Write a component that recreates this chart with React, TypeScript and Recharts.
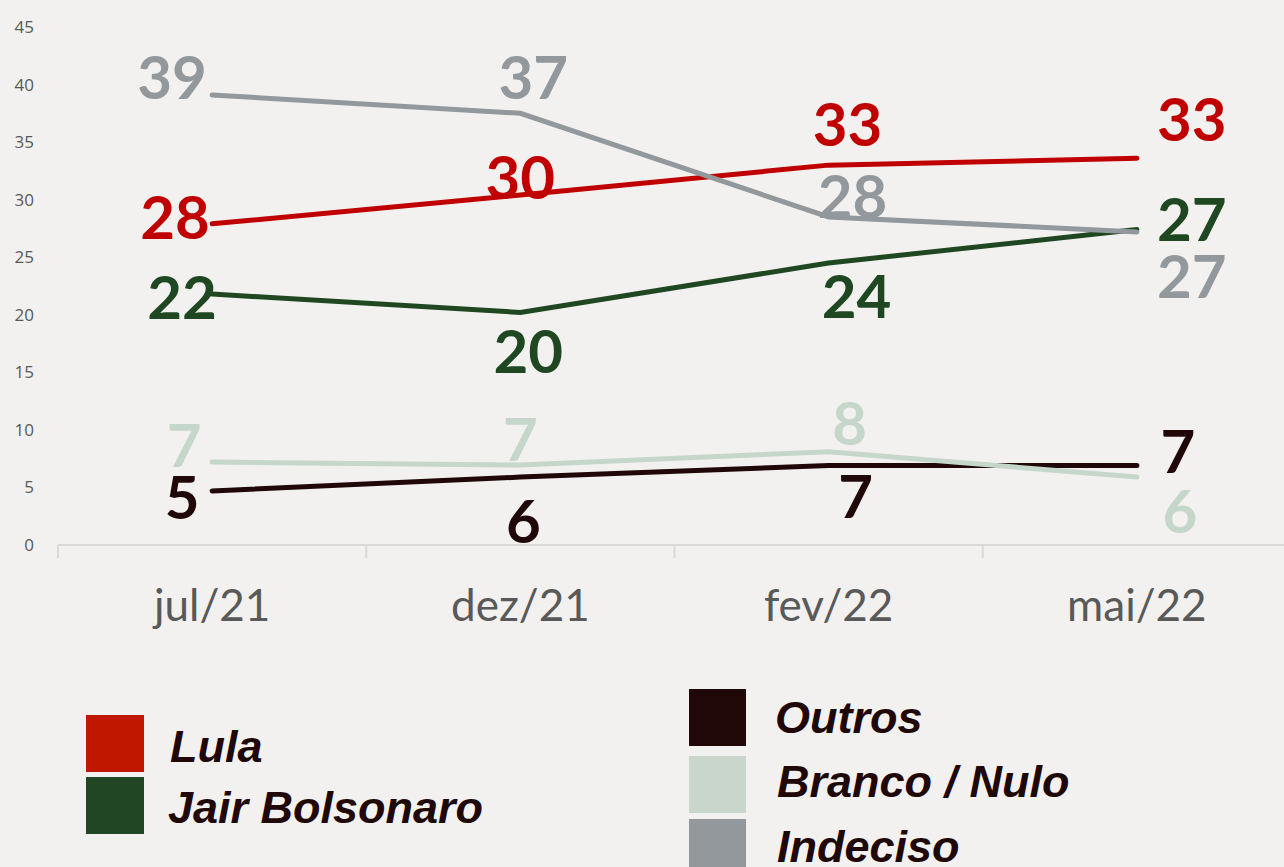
import React from "react";
import { LineChart, Line, XAxis, YAxis, LabelList } from "recharts";

const categories = ["jul/21", "dez/21", "fev/22", "mai/22"];
const lula = [27.9, 30.4, 33.0, 33.6];
const bolsonaro = [21.8, 20.2, 24.5, 27.4];
const indeciso = [39.1, 37.5, 28.5, 27.2];
const branco = [7.2, 6.95, 8.1, 5.9];
const outros = [4.7, 5.9, 6.9, 6.9];

const lulaLabels = ["28", "30", "33", "33"];
const bolsonaroLabels = ["22", "20", "24", "27"];
const indecisoLabels = ["39", "37", "28", "27"];
const brancoLabels = ["7", "7", "8", "6"];
const outrosLabels = ["5", "6", "7", "7"];

const yTicks = [0, 5, 10, 15, 20, 25, 30, 35, 40, 45];

const data = categories.map((c, i) => ({
  cat: c,
  lula: lula[i],
  bolsonaro: bolsonaro[i],
  indeciso: indeciso[i],
  branco: branco[i],
  outros: outros[i],
}));

// label placement (offset of label centre from point), not data
const placement: Record<string, [number, number][]> = {
  lula: [[-37, -6], [0, -17], [19, -40], [55, -38]],
  bolsonaro: [[-30, 4], [8, 40], [28, 34], [55, -10]],
  indeciso: [[-40, -17], [13, -35], [24, -20], [55, 45]],
  branco: [[-28, -16], [0, -25], [21, -28], [43, 35]],
  outros: [[-30, 7], [3, 45], [27, 31], [41, -14]],
};

const COLORS = {
  lula: "#c00000",
  bolsonaro: "#1f4722",
  indeciso: "#92989b",
  branco: "#c5d6cb",
  outros: "#200808",
};

const LEGEND_COLORS = {
  lula: "#c01800",
  bolsonaro: "#214624",
  outros: "#200808",
  branco: "#c8d6cc",
  indeciso: "#92989b",
};

const AXIS_Y = 545;
const BAND = 308.25;

const makeLabel = (key: string, texts: string[]) => (props: any) => {
  const { x, y, index } = props;
  const [dx, dy] = placement[key][index];
  return (
    <text
      x={x + dx}
      y={y + dy}
      dy={21}
      textAnchor="middle"
      fill={(COLORS as any)[key]}
      fontFamily="Lato, 'Open Sans', sans-serif"
      fontWeight={700}
      fontSize={60}
    >
      {texts[index]}
    </text>
  );
};

const XTick = (props: any) => {
  const { x, payload } = props;
  return (
    <g>
      <line x1={x - BAND / 2} x2={x - BAND / 2} y1={AXIS_Y} y2={AXIS_Y + 13} stroke="#d9d9d9" strokeWidth={2} />
      <text x={x} y={621} textAnchor="middle" fill="#595959" fontFamily="Lato, 'Open Sans', sans-serif" fontSize={44}>
        {payload.value}
      </text>
    </g>
  );
};

const YTick = (props: any) => {
  const { y, payload } = props;
  return (
    <text x={34} y={y} dy={6} textAnchor="end" fill="#595959" fontFamily="'Open Sans', sans-serif" fontSize={17}>
      {payload.value}
    </text>
  );
};

const legendFont = "'Liberation Sans', Arial, sans-serif";

export default function App() {
  return (
    <div
      style={{
        position: "absolute",
        left: 0,
        top: 0,
        width: 1284,
        height: 867,
        overflow: "hidden",
        background: "#f2f1ef",
      }}
    >
      <LineChart
        width={1300}
        height={867}
        data={data}
        margin={{ top: 27, right: 9, bottom: 222, left: 0 }}
      >
        <YAxis
          domain={[0, 45]}
          ticks={yTicks}
          width={58}
          axisLine={false}
          tickLine={false}
          tick={<YTick />}
          interval={0}
        />
        <XAxis
          dataKey="cat"
          height={100}
          padding={{ left: BAND / 2, right: BAND / 2 }}
          axisLine={{ stroke: "#d9d9d9", strokeWidth: 2 }}
          tickLine={false}
          tick={<XTick />}
          interval={0}
        />
        <Line dataKey="outros" stroke={COLORS.outros} strokeWidth={5} strokeLinecap="round" dot={false} isAnimationActive={false}>
          <LabelList dataKey="outros" content={makeLabel("outros", outrosLabels)} />
        </Line>
        <Line dataKey="branco" stroke={COLORS.branco} strokeWidth={5} strokeLinecap="round" dot={false} isAnimationActive={false}>
          <LabelList dataKey="branco" content={makeLabel("branco", brancoLabels)} />
        </Line>
        <Line dataKey="lula" stroke={COLORS.lula} strokeWidth={5} strokeLinecap="round" dot={false} isAnimationActive={false}>
          <LabelList dataKey="lula" content={makeLabel("lula", lulaLabels)} />
        </Line>
        <Line dataKey="bolsonaro" stroke={COLORS.bolsonaro} strokeWidth={5} strokeLinecap="round" dot={false} isAnimationActive={false}>
          <LabelList dataKey="bolsonaro" content={makeLabel("bolsonaro", bolsonaroLabels)} />
        </Line>
        <Line dataKey="indeciso" stroke={COLORS.indeciso} strokeWidth={5} strokeLinecap="round" dot={false} isAnimationActive={false}>
          <LabelList dataKey="indeciso" content={makeLabel("indeciso", indecisoLabels)} />
        </Line>
      </LineChart>
      <svg width={1284} height={867} style={{ position: "absolute", left: 0, top: 0, pointerEvents: "none" }}>
        <rect x={86} y={715} width={58} height={57} fill={LEGEND_COLORS.lula} />
        <rect x={86} y={777} width={58} height={57} fill={LEGEND_COLORS.bolsonaro} />
        <text x={170} y={762} fontFamily={legendFont} fontWeight={700} fontStyle="italic" fontSize={45} fill="#200808">Lula</text>
        <text x={168} y={823} fontFamily={legendFont} fontWeight={700} fontStyle="italic" fontSize={45} fill="#200808">Jair Bolsonaro</text>
        <rect x={689} y={689} width={57} height={57} fill={LEGEND_COLORS.outros} />
        <rect x={689} y={756} width={57} height={57} fill={LEGEND_COLORS.branco} />
        <rect x={689} y={819} width={57} height={57} fill={LEGEND_COLORS.indeciso} />
        <text x={775} y={733} fontFamily={legendFont} fontWeight={700} fontStyle="italic" fontSize={45} fill="#200808">Outros</text>
        <text x={777} y={797} fontFamily={legendFont} fontWeight={700} fontStyle="italic" fontSize={45} fill="#200808">Branco / Nulo</text>
        <text x={777} y={862} fontFamily={legendFont} fontWeight={700} fontStyle="italic" fontSize={45} fill="#200808">Indeciso</text>
      </svg>
    </div>
  );
}
